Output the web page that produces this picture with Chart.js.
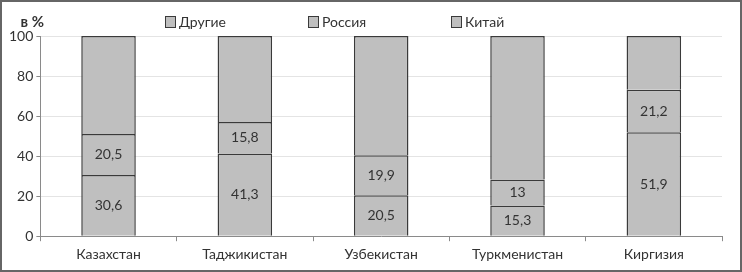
<!DOCTYPE html>
<html>
<head>
<meta charset="utf-8">
<script src="https://cdn.jsdelivr.net/npm/chart.js@4"></script>
<style>
  html, body { margin: 0; padding: 0; background: #fff; }
  #wrap { position: relative; width: 742px; height: 272px; }
</style>
</head>
<body>
<div id="wrap"><canvas id="chart" width="742" height="272"></canvas></div>
<script>
const countries = ["Казахстан", "Таджикистан", "Узбекистан", "Туркменистан", "Киргизия"];
const china = [30.6, 41.3, 20.5, 15.3, 51.9];
const russia = [20.5, 15.8, 19.9, 13, 21.2];
const others = [48.9, 42.9, 59.6, 71.7, 26.9];
const yTicks = [0, 20, 40, 60, 80, 100];

const FONT = "Lato, 'Open Sans', sans-serif";
const GRAY = "#bfbfbf";
const EDGE = "#3a3a3a";

const labelPlugin = {
  id: "extras",
  afterDatasetsDraw(chart) {
    const ctx = chart.ctx;
    ctx.save();
    ctx.font = "14px " + FONT;
    ctx.fillStyle = "#333";
    ctx.textAlign = "center";
    ctx.textBaseline = "middle";
    chart.data.datasets.forEach((ds, i) => {
      if (!ds.showValues) return;
      chart.getDatasetMeta(i).data.forEach((bar, j) => {
        const y = (bar.y + bar.base) / 2;
        ctx.fillText(String(ds.data[j]).replace(".", ","), bar.x, y);
      });
    });

    // legend (reverse dataset order, like the original)
    const legendItems = chart.data.datasets.slice().reverse();
    let x = 165;
    ctx.textBaseline = "alphabetic";
    legendItems.forEach((ds) => {
      ctx.fillStyle = GRAY;
      ctx.fillRect(x, 16, 10, 11);
      ctx.strokeStyle = EDGE;
      ctx.lineWidth = 1;
      ctx.strokeRect(x + 0.5, 16.5, 10, 11);
      ctx.fillStyle = "#333";
      ctx.textAlign = "left";
      ctx.fillText(ds.label, x + 14, 27);
      x += 143;
    });

    // unit label
    ctx.font = "bold 15px " + FONT;
    ctx.textAlign = "right";
    ctx.fillText("в %", 44, 27);

    // frame
    ctx.strokeStyle = "#666";
    ctx.lineWidth = 2;
    ctx.strokeRect(1, 1, chart.width - 2, chart.height - 2);
    ctx.restore();
  }
};

const barStyle = {
  backgroundColor: GRAY,
  borderColor: EDGE,
  borderWidth: { top: 1.5, left: 1.5, right: 1.5, bottom: 0 },
  borderSkipped: false,
  barPercentage: 0.4,
  categoryPercentage: 1,
};

new Chart(document.getElementById("chart"), {
  type: "bar",
  data: {
    labels: countries,
    datasets: [
      Object.assign({ label: "Китай", data: china, showValues: true }, barStyle),
      Object.assign({ label: "Россия", data: russia, showValues: true }, barStyle),
      Object.assign({ label: "Другие", data: others, showValues: false }, barStyle),
    ],
  },
  options: {
    responsive: false,
    animation: false,
    layout: { padding: { top: 36, right: 20, left: 6, bottom: 4 } },
    plugins: {
      legend: { display: false },
      tooltip: { enabled: false },
    },
    scales: {
      x: {
        stacked: true,
        grid: {
          offset: true,
          drawOnChartArea: false,
          drawTicks: true,
          tickLength: 5,
          color: "#8a8a8a",
        },
        border: { color: "#8a8a8a", z: 1 },
        ticks: { color: "#333", font: { family: FONT, size: 14 }, padding: 5 },
      },
      y: {
        stacked: true,
        min: 0,
        max: 100,
        afterBuildTicks(scale) {
          scale.ticks = yTicks.map((v) => ({ value: v }));
        },
        grid: { color: "#e4e4e4", tickLength: 4, tickColor: "#8a8a8a" },
        border: { color: "#8a8a8a" },
        ticks: { color: "#333", font: { family: FONT, size: 14 }, padding: 3 },
      },
    },
  },
  plugins: [labelPlugin],
});
</script>
</body>
</html>
